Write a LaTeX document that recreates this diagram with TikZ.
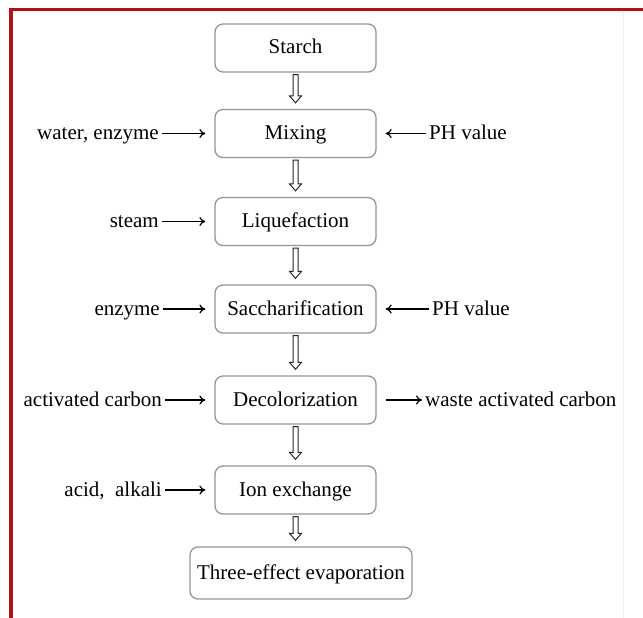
\documentclass[tikz,border=0pt]{standalone}
\usepackage{fontspec}
\setmainfont{Liberation Serif}
\usetikzlibrary{calc,arrows.meta}
\definecolor{bordercol}{RGB}{180,16,24}
\definecolor{boxline}{RGB}{150,150,150}
\newcommand\hollowdown[2]{%
  \draw[harr] let \p1=(#1.south), \p2=(#2.north) in
    (\x1-2.5pt,\y1-2pt) -- (\x1+2.5pt,\y1-2pt) -- (\x1+2.5pt,\y2+13pt)
    -- (\x1+6pt,\y2+13pt) -- (\x1,\y2+6pt) -- (\x1-6pt,\y2+13pt)
    -- (\x1-2.5pt,\y2+13pt) -- cycle;}
\begin{document}
\begin{tikzpicture}[x=1pt,y=-1pt,
  font=\fontsize{21}{25}\selectfont,
  proc/.style={draw=boxline, line width=1.3pt, rounded corners=8pt,
    minimum width=161pt, minimum height=48pt, inner sep=0pt,
    text height=15pt, text depth=3pt},
  lbl/.style={inner sep=3pt, text height=15pt, text depth=3pt},
  arr/.style={-{To[length=6pt,width=9pt]}, line width=1.2pt},
  harr/.style={draw=black!85, line width=1pt, fill=white}]
\useasboundingbox (0,0) rectangle (643,618);
\fill[white] (0,0) rectangle (643,618);
% frame
\draw[bordercol, line width=3.5pt] (643,9.5) -- (11,9.5) -- (11,618);
\draw[black!7, line width=1pt] (623,11) -- (623,618);
% process boxes
\node[proc] (starch) at (295.5,48) {Starch};
\node[proc] (mix) at (295.5,133.5) {Mixing};
\node[proc] (liq) at (295.5,221.5) {Liquefaction};
\node[proc] (sac) at (295.5,309) {Saccharification};
\node[proc] (dec) at (295.5,400) {Decolorization};
\node[proc] (ion) at (295.5,490) {Ion exchange};
\node[proc, minimum width=222pt, minimum height=52pt] (eva) at (301,573) {Three-effect evaporation};
% hollow arrows
\hollowdown{starch}{mix}
\hollowdown{mix}{liq}
\hollowdown{liq}{sac}
\hollowdown{sac}{dec}
\hollowdown{dec}{ion}
\hollowdown{ion}{eva}
% left inputs
\node[lbl, anchor=east] (wat) at (162,133.5) {water, enzyme};
\node[lbl, anchor=east] (stm) at (162,221.5) {steam};
\node[lbl, anchor=east] (enz) at (163,309) {enzyme};
\node[lbl, anchor=east] (acb) at (165,400) {activated carbon};
\node[lbl, anchor=east] (aca) at (165,490) {acid,\ \ alkali};
\draw[arr] (wat.east) -- (mix.west) [shorten >=9pt];
\draw[arr] (stm.east) -- (liq.west) [shorten >=9pt];
\draw[arr] (enz.east) -- (sac.west) [shorten >=9pt];
\draw[arr] (acb.east) -- (dec.west) [shorten >=9pt];
\draw[arr] (aca.east) -- (ion.west) [shorten >=9pt];
% right inputs / outputs
\node[lbl, anchor=west] (ph1) at (426,133.5) {PH value};
\node[lbl, anchor=west] (ph2) at (429,309) {PH value};
\node[lbl, anchor=west] (wac) at (422,400) {waste activated carbon};
\draw[arr] (ph1.west) -- (mix.east) [shorten >=9pt];
\draw[arr] (ph2.west) -- (sac.east) [shorten >=9pt];
\draw[arr] (dec.east) -- (wac.west) [shorten <=9pt];
\end{tikzpicture}
\end{document}
